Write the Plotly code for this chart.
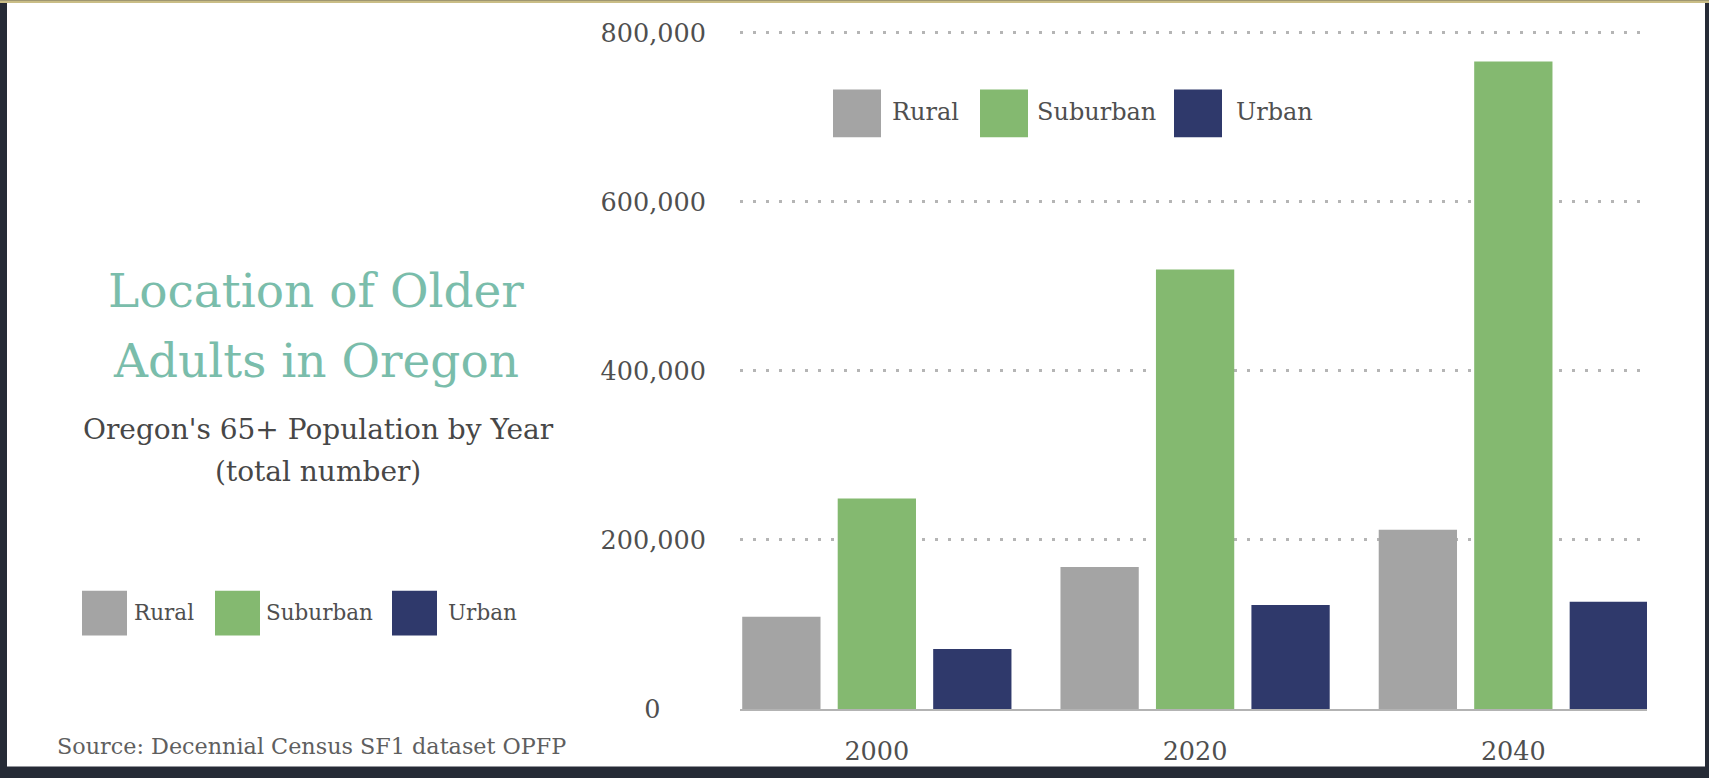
import plotly.graph_objects as go

# ---- data -------------------------------------------------------------
years = ["2000", "2020", "2040"]
rural = [109000, 168000, 212000]
suburban = [249000, 520000, 766000]
urban = [71000, 123000, 127000]

series_names = ["Rural", "Suburban", "Urban"]
series_colors = ["#a4a4a4", "#84b970", "#2f396b"]

y_tick_values = [0, 200000, 400000, 600000, 800000]
y_tick_labels = ["0", "200,000", "400,000", "600,000", "800,000"]

# ---- canvas / plot-area geometry (pixels) -----------------------------
W, H = 1709, 778
PLOT_L, PLOT_R, PLOT_T, PLOT_B = 740, 1647, 20, 714
FONT = "DejaVu Serif"
TEXT_GREY = "#4f4f4f"


def px_x(px):
    return (px - PLOT_L) / (PLOT_R - PLOT_L)


def px_y(py):
    return (PLOT_B - py) / (PLOT_B - PLOT_T)


fig = go.Figure()
for name, vals, color in zip(series_names, [rural, suburban, urban], series_colors):
    fig.add_trace(go.Bar(
        x=years, y=vals, name=name,
        marker=dict(color=color, line=dict(width=0)),
        showlegend=False,
    ))

# "0" is padded so every tick label sits centred in the same column
tick_text = [t if t != "0" else "0\u2007\u2007\u00a0\u2009" for t in y_tick_labels]

shapes = [
    # white card
    dict(type="rect", xref="paper", yref="paper", layer="below",
         x0=px_x(7), x1=px_x(1705), y0=px_y(772), y1=px_y(3),
         fillcolor="white", line=dict(width=0)),
    dict(type="rect", xref="paper", yref="paper", layer="below",
         x0=px_x(0), x1=px_x(W), y0=px_y(3), y1=px_y(0),
         fillcolor="#c9bd86", line=dict(width=0)),
]
annotations = []

# two legend blocks, drawn as swatches + labels
legend_blocks = [
    dict(swatch_x=[833, 980, 1174], text_x=[890, 1035, 1234], y0=90, size=48, font=24),
    dict(swatch_x=[82, 215, 392], text_x=[132, 264, 446], y0=595, size=45, font=21.5),
]
for blk in legend_blocks:
    for sx, tx, name, color in zip(blk["swatch_x"], blk["text_x"], series_names, series_colors):
        shapes.append(dict(
            type="rect", xref="paper", yref="paper",
            x0=px_x(sx), x1=px_x(sx + blk["size"]),
            y0=px_y(blk["y0"] + blk["size"]), y1=px_y(blk["y0"]),
            fillcolor=color, line=dict(width=0),
        ))
        annotations.append(dict(
            text=name, xref="paper", yref="paper",
            x=px_x(tx), y=px_y(blk["y0"] + blk["size"] / 2 - 1),
            xanchor="left", yanchor="middle", showarrow=False,
            font=dict(family=FONT, size=blk["font"], color=TEXT_GREY),
        ))

# titles and source
text_items = [
    ("Location of Older", 316, 292, 47, "#7abdab"),
    ("Adults in Oregon", 316, 363, 47, "#7abdab"),
    ("Oregon's 65+ Population by Year", 318, 432, 28, "#474747"),
    ("(total number)", 318, 475, 28, "#474747"),
    ("Source: Decennial Census SF1 dataset OPFP", 311, 751, 22.3, "#5f5f5f"),
]
for txt, cx, cy, size, color in text_items:
    annotations.append(dict(
        text=txt, xref="paper", yref="paper",
        x=px_x(cx), y=px_y(cy), xanchor="center", yanchor="middle",
        showarrow=False, font=dict(family=FONT, size=size, color=color),
    ))

fig.update_layout(
    width=W, height=H,
    margin=dict(l=PLOT_L, r=W - PLOT_R, t=PLOT_T, b=H - PLOT_B, pad=0),
    paper_bgcolor="#262b36",
    plot_bgcolor="rgba(0,0,0,0)",
    barmode="group",
    bargap=0.1,
    bargroupgap=0.18,
    showlegend=False,
    shapes=shapes,
    annotations=annotations,
    font=dict(family=FONT, color=TEXT_GREY),
)

fig.update_xaxes(
    type="category", range=[-0.43, 2.42],
    showgrid=False, zeroline=False,
    showline=True, linecolor="#b3b3b3", linewidth=2,
    ticks="", ticklabelstandoff=18,
    tickfont=dict(family=FONT, size=25.5, color=TEXT_GREY),
)
fig.update_yaxes(
    range=[0, 815000],
    tickvals=y_tick_values, ticktext=tick_text,
    showgrid=True, gridcolor="#b5b5b5", gridwidth=3, griddash="3px,10px",
    zeroline=False, showline=False, ticks="", ticklabelstandoff=33,
    tickfont=dict(family=FONT, size=25.5, color=TEXT_GREY),
)

fig.write_html("out.html")
